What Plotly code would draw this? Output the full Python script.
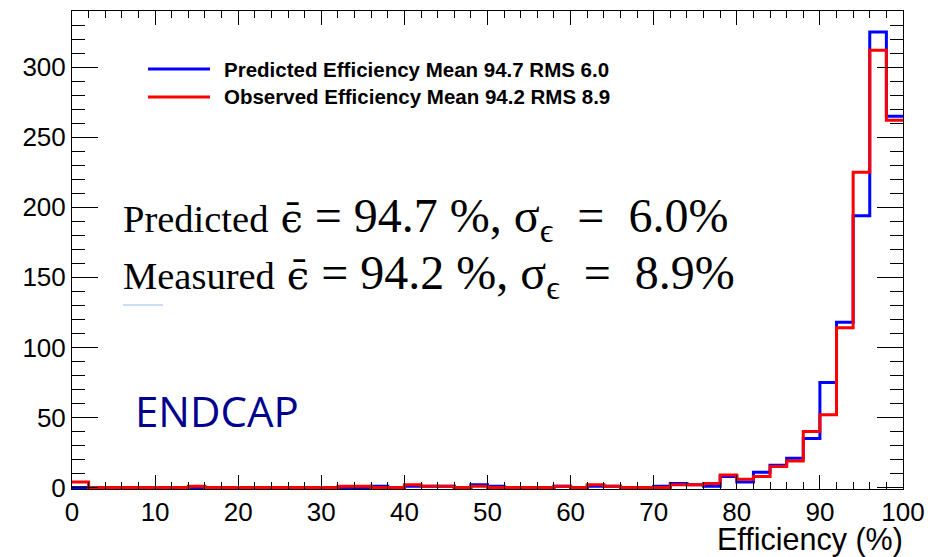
import plotly.graph_objects as go

# Efficiency histogram, 2 % wide bins from 0 to 100
bin_low = [0, 2, 4, 6, 8, 10, 12, 14, 16, 18,
           20, 22, 24, 26, 28, 30, 32, 34, 36, 38,
           40, 42, 44, 46, 48, 50, 52, 54, 56, 58,
           60, 62, 64, 66, 68, 70, 72, 74, 76, 78,
           80, 82, 84, 86, 88, 90, 92, 94, 96, 98]
bin_high_edge = 100

predicted = [0, 0, 0, 0, 0, 0, 0, 0, 0, 0,
             0, 0, 0, 0, 0, 0, 0, 0, 1, 0,
             1, 1, 1, 0, 2, 1, 0, 0, 0, 1,
             0, 1, 1, 0, 0, 1, 3, 2, 1, 8,
             4, 11, 16, 21, 35, 75, 118, 194, 325, 265]

observed = [4, 0, 0, 0, 0, 0, 0, 1, 0, 0,
            0, 0, 0, 0, 0, 0, 1, 1, 0, 0,
            2, 1, 1, 0, 1, 0, 0, 0, 0, 1,
            0, 2, 1, 0, 0, 0, 2, 2, 3, 9,
            6, 8, 15, 19, 40, 52, 114, 225, 312, 262]

legend_labels = ["Predicted Efficiency Mean 94.7 RMS 6.0",
                 "Observed Efficiency Mean 94.2 RMS 8.9"]
series_colors = ["#0000ff", "#ff0000"]

summary_rows = [("Predicted", "94.7", "6.0"),
                ("Measured", "94.2", "8.9")]

W, H = 944, 557
L, R, T, B = 72, 41, 11, 68
PW, PH = W - L - R, H - T - B


def px(xp):
    return (xp - L) / PW


def py(yp):
    return (H - B - yp) / PH


def step_xy(counts):
    xs = list(bin_low) + [bin_high_edge]
    ys = list(counts) + [counts[-1]]
    return xs, ys


fig = go.Figure()
for counts, color, name in zip([predicted, observed], series_colors, legend_labels):
    xs, ys = step_xy(counts)
    fig.add_trace(go.Scatter(x=xs, y=ys, mode="lines", name=name,
                             line=dict(color=color, width=3, shape="hv"),
                             showlegend=False, hoverinfo="skip"))

# legend box drawn as line samples plus bold labels
for i, (name, color) in enumerate(zip(legend_labels, series_colors)):
    yy = py(69 + i * 28)
    fig.add_shape(type="line", xref="paper", yref="paper",
                  x0=px(148), x1=px(210), y0=yy, y1=yy,
                  line=dict(color=color, width=3))
    fig.add_annotation(xref="paper", yref="paper", x=px(222), y=yy,
                       xanchor="left", yanchor="middle", showarrow=False,
                       text="<b>%s</b>" % name,
                       font=dict(family="Liberation Sans", size=20.5, color="black"))

# summary lines: mean efficiency and spread
serif = "Liberation Serif, DejaVu Serif, serif"
eps_bar = '<span style="font-family:DejaVu Serif;font-size:40px">ϵ̄</span>'
for i, (label, mean, rms) in enumerate(summary_rows):
    txt = ('<span style="font-size:38.5px">%s</span> %s = %s %%, σ<sub>ϵ</sub>  =  %s%%'
           % (label, eps_bar, mean, rms))
    fig.add_annotation(xref="paper", yref="paper", x=px(121), y=py(219 + i * 57),
                       xanchor="left", yanchor="middle", showarrow=False,
                       text=txt, font=dict(family=serif, size=48, color="black"))
fig.add_shape(type="line", xref="paper", yref="paper",
              x0=px(123), x1=px(163), y0=py(305), y1=py(305),
              line=dict(color="#b8d4f2", width=1.5))

fig.add_annotation(xref="paper", yref="paper", x=px(133), y=py(410),
                   xanchor="left", yanchor="middle", showarrow=False,
                   text="ENDCAP",
                   font=dict(family="Open Sans", size=42, color="#00008c"))

fig.add_annotation(xref="paper", yref="paper", x=px(905), y=py(539),
                   xanchor="right", yanchor="middle", showarrow=False,
                   text="Efficiency (%)",
                   font=dict(family="Liberation Sans", size=30.5, color="black"))

tick_font = dict(family="Liberation Sans", size=26, color="black")
fig.update_xaxes(range=[0, 100], tickmode="linear", tick0=0, dtick=10,
                 ticks="inside", ticklen=14, tickcolor="black", tickwidth=1,
                 minor=dict(ticks="inside", dtick=2, ticklen=7, tickcolor="black"),
                 showline=True, linecolor="black", linewidth=1, mirror="ticks",
                 showgrid=False, zeroline=False, tickfont=tick_font)
fig.update_yaxes(range=[-1, 340], tickmode="linear", tick0=0, dtick=50,
                 ticks="inside", ticklen=26, tickcolor="black", tickwidth=1,
                 minor=dict(ticks="inside", dtick=10, ticklen=13, tickcolor="black"),
                 showline=True, linecolor="black", linewidth=1, mirror="ticks",
                 showgrid=False, zeroline=False, tickfont=tick_font)

fig.update_layout(width=W, height=H, margin=dict(l=L, r=R, t=T, b=B),
                  paper_bgcolor="white", plot_bgcolor="white")

fig.write_html("out.html")
